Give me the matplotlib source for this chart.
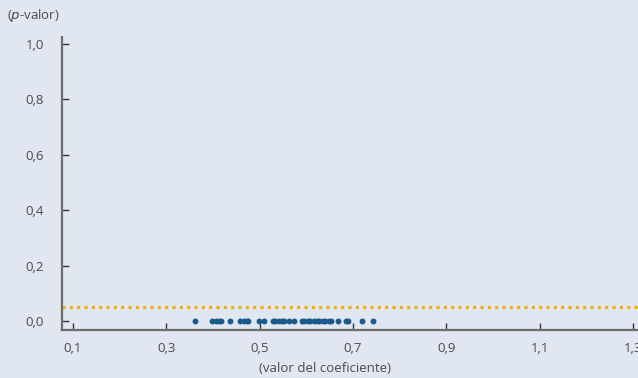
import matplotlib.pyplot as plt
import numpy as np

# coefficient estimates and their p-values
coef = [0.361, 0.399, 0.406, 0.412, 0.417, 0.436, 0.459, 0.466, 0.472, 0.476,
        0.498, 0.509, 0.528, 0.534, 0.541, 0.547, 0.553, 0.564, 0.573,
        0.590, 0.596, 0.603, 0.609, 0.616, 0.622, 0.628, 0.635, 0.641,
        0.648, 0.654, 0.669, 0.686, 0.690, 0.720, 0.742]
pval = [0.0] * len(coef)
alpha = 0.05

xticks = [0.1, 0.3, 0.5, 0.7, 0.9, 1.1, 1.3]
yticks = [0.0, 0.2, 0.4, 0.6, 0.8, 1.0]

bg = '#e1e7f1'
txt = '#4a4a4a'
plt.rcParams['font.family'] = ['Open Sans', 'DejaVu Sans']

fig = plt.figure(figsize=(6.38, 3.78), dpi=100, facecolor=bg)
ax = fig.add_axes([62 / 638, 48 / 378, 1 - 62 / 638, 293 / 378])
ax.set_facecolor(bg)

ax.axhline(alpha, color='#f2ad00', linestyle=(0, (1, 1.4)), linewidth=2.2)
ax.scatter(coef, pval, s=18, color='#1a5b8c', zorder=3, linewidths=0)

ax.set_xlim(0.0765, 1.311)
ax.set_ylim(-0.0325, 1.025)
ax.set_xticks(xticks)
ax.set_xticklabels([f'{t:.1f}'.replace('.', ',') for t in xticks])
ax.set_yticks(yticks)
ax.set_yticklabels([f'{t:.1f}'.replace('.', ',') for t in yticks])

for s in ['top', 'right']:
    ax.spines[s].set_visible(False)
for s in ['left', 'bottom']:
    ax.spines[s].set_color('#6b6b6b')
    ax.spines[s].set_linewidth(1.6)

ax.tick_params(axis='both', direction='in', length=5, width=1, color='#333333',
               labelsize=9.5, labelcolor=txt)
ax.tick_params(axis='y', pad=13)
ax.tick_params(axis='x', pad=9)

fig.text(7 / 638, 1 - 16 / 378, r'($\it{p}$-valor)', fontsize=9.5, color=txt,
         va='center')
fig.text(325 / 638, 1 - 368 / 378, '(valor del coeficiente)', fontsize=9.5,
         color=txt, ha='center', va='center')

fig.savefig('out.png', dpi=100, facecolor=bg)
